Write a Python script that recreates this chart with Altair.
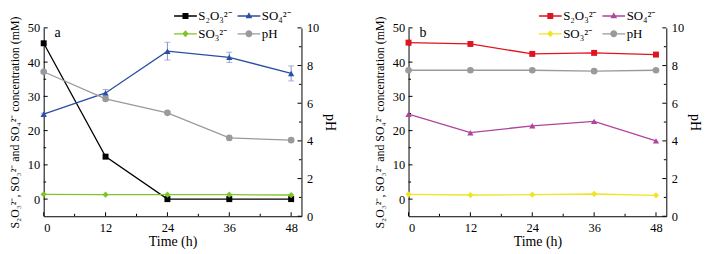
import altair as alt
import pandas as pd

time = [0, 12, 24, 36, 48]
# legend lays out column by column: col 1 = S2O3, SO3 ; col 2 = SO4, pH
series = ["S₂O₃²⁻", "SO₃²⁻", "SO₄²⁻", "pH"]
point_shapes = {"S₂O₃²⁻": "square", "SO₃²⁻": "diamond", "SO₄²⁻": "triangle-up", "pH": "circle"}
point_sizes = {"S₂O₃²⁻": 36, "SO₃²⁻": 40, "SO₄²⁻": 40, "pH": 45}

# Panel a
a_s2o3 = [45.5, 12.4, 0.0, 0.0, 0.0]
a_so4 = [24.8, 31.0, 43.2, 41.4, 36.7]
a_so4_err = [0.3, 1.0, 2.6, 1.5, 2.2]
a_so3 = [1.4, 1.3, 1.3, 1.3, 1.2]
a_ph = [7.67, 6.23, 5.49, 4.16, 4.04]
a_ph_err = [0.0, 0.05, 0.15, 0.05, 0.05]
a_colors = {"S₂O₃²⁻": "#000000", "SO₃²⁻": "#7cc627", "SO₄²⁻": "#2b4ea2", "pH": "#9a9a9a"}

# Panel b
b_s2o3 = [45.7, 45.3, 42.4, 42.7, 42.2]
b_so4 = [24.8, 19.4, 21.4, 22.7, 17.0]
b_so3 = [1.4, 1.2, 1.3, 1.5, 1.1]
b_ph = [7.75, 7.75, 7.75, 7.7, 7.75]
b_colors = {"S₂O₃²⁻": "#e0141e", "SO₃²⁻": "#f0e424", "SO₄²⁻": "#b0449c", "pH": "#9a9a9a"}

# axis tick values (ticks are drawn pointing inward)
x_major = [0, 12, 24, 36, 48]
x_minor = [6, 18, 30, 42]
yl_major = [0, 10, 20, 30, 40, 50]
yl_minor = [5, 15, 25, 35, 45]
yr_major = [0, 2, 4, 6, 8, 10]
yr_minor = [1, 3, 5, 7, 9]

FONT = "Liberation Serif"
YTITLE = "S₂O₃²⁻, SO₃²⁻ and SO₄²⁻ concentration (mM)"
W, H = 260, 190
MAJ, MIN = 4, 2.5

# legend symbols: a short line with its marker (unit box -1..1 = 14 px)
LEG_BOX = 14
_line = "M-1.64,-0.095H1.64V0.095H-1.64Z"
legend_paths = [
    _line + "M-0.43,-0.43H0.43V0.43H-0.43Z",
    _line + "M0,-0.5L0.46,0L0,0.5L-0.46,0Z",
    _line + "M0,-0.52L0.48,0.32L-0.48,0.32Z",
    _line + "M-0.5,0A0.5,0.5,0,1,1,0.5,0A0.5,0.5,0,1,1,-0.5,0Z",
]


def xenc(field="time"):
    return alt.X(
        f"{field}:Q",
        scale=alt.Scale(domain=[0, 50], nice=False),
        axis=alt.Axis(
            values=x_major, ticks=False, labelPadding=5,
            title="Time (h)", titlePadding=1, grid=False,
        ),
    )


def yconc(field):
    return alt.Y(
        f"{field}:Q",
        scale=alt.Scale(domain=[-5, 50], nice=False),
        axis=alt.Axis(
            values=yl_major, ticks=False, labelPadding=4,
            title=YTITLE, titleFontSize=12, titlePadding=6, grid=False,
        ),
    )


def yph(field):
    return alt.Y(
        f"{field}:Q",
        scale=alt.Scale(domain=[0, 10], nice=False),
        axis=alt.Axis(
            orient="right", values=yr_major, ticks=False, labelPadding=5,
            title="pH", grid=False,
        ),
    )


def tick_layers_conc():
    out = []
    for vals, ln in [(x_major, MAJ), (x_minor, MIN)]:
        out.append(alt.Chart(pd.DataFrame({"v": vals})).mark_rule(color="black", strokeWidth=1).encode(
            x=xenc("v"), y=alt.value(H), y2=alt.value(H - ln)))
    for vals, ln in [(yl_major, MAJ), (yl_minor, MIN)]:
        out.append(alt.Chart(pd.DataFrame({"v": vals})).mark_rule(color="black", strokeWidth=1).encode(
            y=yconc("v"), x=alt.value(0), x2=alt.value(ln)))
    return out


def tick_layers_ph():
    out = []
    for vals, ln in [(yr_major, MAJ), (yr_minor, MIN)]:
        out.append(alt.Chart(pd.DataFrame({"v": vals})).mark_rule(color="black", strokeWidth=1).encode(
            y=yph("v"), x=alt.value(W - ln), x2=alt.value(W)))
    return out


def series_layers(name, vals, colors, yfn):
    df = pd.DataFrame({"time": time, "series": name, "value": vals})
    c = alt.Chart(df)
    return [
        c.mark_line(strokeWidth=1.3, color=colors[name]).encode(x=xenc(), y=yfn("value")),
        c.mark_point(filled=True, opacity=1, strokeWidth=0, color=colors[name],
                     shape=point_shapes[name], size=point_sizes[name]).encode(x=xenc(), y=yfn("value")),
    ]


def err_layers(vals, errs, yfn, color, cap):
    edf = pd.DataFrame({
        "time": time,
        "lo": [v - e for v, e in zip(vals, errs)],
        "hi": [v + e for v, e in zip(vals, errs)],
    })
    ec = alt.Chart(edf)
    out = [ec.mark_rule(color=color, strokeWidth=1).encode(x=xenc(), y=yfn("lo"), y2="hi:Q")]
    if cap:
        out += [
            ec.mark_tick(color=color, orient="horizontal", size=6, thickness=1).encode(x=xenc(), y=yfn("lo")),
            ec.mark_tick(color=color, orient="horizontal", size=6, thickness=1).encode(x=xenc(), y=yfn("hi")),
        ]
    return out


def panel(letter, s2o3, so4, so3, ph, colors, so4_err=None, ph_err=None):
    leg = alt.Legend(
        orient="none", legendX=136, legendY=-19, columns=2, title=None, padding=0,
        labelFont=FONT, labelFontSize=13, labelColor="black",
        symbolSize=LEG_BOX * LEG_BOX, symbolStrokeWidth=0, symbolOpacity=1,
        columnPadding=5, rowPadding=4, labelOffset=6,
    )
    dummy_df = pd.DataFrame({"time": time, "series": "pH", "value": ph})
    legend_layer = alt.Chart(dummy_df).transform_filter("false").mark_point(filled=True).encode(
        x=xenc(), y=yconc("value"),
        color=alt.Color("series:N", scale=alt.Scale(domain=series, range=[colors[s] for s in series]), legend=leg),
        shape=alt.Shape("series:N", scale=alt.Scale(domain=series, range=legend_paths), legend=leg),
    )

    layers = tick_layers_conc()
    if so4_err is not None:
        layers += err_layers(so4, so4_err, yconc, "#7f93cf", True)
    layers += series_layers("S₂O₃²⁻", s2o3, colors, yconc)
    layers += series_layers("SO₃²⁻", so3, colors, yconc)
    layers += series_layers("SO₄²⁻", so4, colors, yconc)
    layers.append(legend_layer)
    layers.append(
        alt.Chart(pd.DataFrame({"t": [letter]})).mark_text(
            font=FONT, fontSize=14, align="left", baseline="middle", color="black"
        ).encode(x=alt.value(11), y=alt.value(5), text="t:N")
    )
    conc_layer = alt.layer(*layers)

    players = tick_layers_ph()
    if ph_err is not None:
        players += err_layers(ph, ph_err, yph, "#b0b0b0", False)
    players += series_layers("pH", ph, colors, yph)
    ph_layer = alt.layer(*players)

    return alt.layer(conc_layer, ph_layer).resolve_scale(y="independent").properties(width=W, height=H)


pa = panel("a", a_s2o3, a_so4, a_so3, a_ph, a_colors, a_so4_err, a_ph_err)
pb = panel("b", b_s2o3, b_so4, b_so3, b_ph, b_colors)

chart = (
    alt.hconcat(pa, pb, spacing=36)
    .resolve_scale(color="independent", shape="independent")
    .resolve_legend(color="independent", shape="independent")
    .properties(padding={"left": 0, "top": 0, "right": 0, "bottom": 0})
    .configure_view(stroke=None)
    .configure_axis(
        labelFont=FONT, titleFont=FONT, labelFontSize=12.5, titleFontSize=14,
        titleFontWeight="normal", labelColor="black", titleColor="black",
        domainColor="black", tickColor="black",
    )
)

chart.save("out.html", embed_options={"renderer": "svg", "actions": False})
